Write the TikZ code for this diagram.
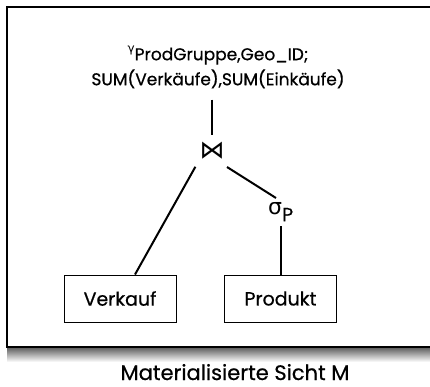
\documentclass[tikz,border=0pt]{standalone}
\usepackage{fontspec}
\setmainfont{Poppins}[FakeBold=0.6]
\newfontfamily\symfont{DejaVu Sans}
\usetikzlibrary{positioning}

\tikzset{
    relbox/.style={draw, line width=1pt, minimum width=112pt, minimum height=47pt,
        inner sep=0pt, font=\fontsize{19}{22}\selectfont},
    opnode/.style={inner sep=0pt, font=\fontsize{17}{25}\selectfont},
    edge/.style={line width=2pt}
}

\begin{document}
\begin{tikzpicture}[x=1pt,y=-1pt]
    \useasboundingbox (0,0) rectangle (430,386);

    % Frame with shadow
    \shade [top color=black!65, bottom color=white] (7,347) rectangle (430,362);
    \draw [line width=1.2pt, fill=white] (7,7) rectangle (445,347);

    % Operators
    \node [opnode, align=center] (gamma) at (218,67)
        {\raisebox{8pt}{\fontsize{12}{12}\selectfont\symfont γ}ProdGruppe,Geo\_ID;\\
         SUM(Verkäufe),SUM(Einkäufe)};
    \node [opnode] (join) at (212,151) {\symfont\fontsize{25}{25}\selectfont ⋈};
    \node [opnode, anchor=north west] (sigma) at (268,202)
        {\symfont\fontsize{22}{22}\selectfont σ\raisebox{-7pt}{\fontspec{Poppins}[FakeBold=0.6]\fontsize{19}{19}\selectfont P}};

    % Relations
    \node [relbox] (verkauf) at (120,298.5) {Verkauf};
    \node [relbox] (produkt) at (280.5,298.5) {Produkt};

    % Edges
    \draw [edge, shorten <=11pt, shorten >=7pt] (gamma.south -| join) -- (join.north);
    \draw [edge, shorten <=8pt] (join.south west) -- ([xshift=15pt]verkauf.north);
    \draw [edge] ([shift={(15pt,-16pt)}]join.center) -- ([shift={(8pt,4pt)}]sigma.north west);
    \draw [edge, shorten <=5pt] (sigma.south -| produkt.north) -- (produkt.north);

    % Caption
    \node [font=\fontsize{21}{24}\selectfont, anchor=base, inner sep=0pt] (caption) at (235,380) {Materialisierte Sicht M};
\end{tikzpicture}
\end{document}
